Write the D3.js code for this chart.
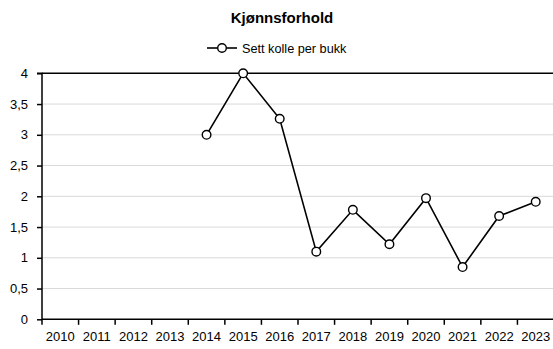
<!DOCTYPE html>
<html><head><meta charset="utf-8">
<script src="https://cdn.jsdelivr.net/npm/d3@7"></script>
<style>body{margin:0;background:#fff}svg{display:block}text{font-family:"Liberation Sans",Arial,sans-serif;fill:#000}</style>
</head><body>
<svg id="c" width="553" height="349"></svg>
<script>
const years = ["2010","2011","2012","2013","2014","2015","2016","2017","2018","2019","2020","2021","2022","2023"];
const seriesYears = ["2014","2015","2016","2017","2018","2019","2020","2021","2022","2023"];
const seriesValues = [3.0, 4.0, 3.26, 1.10, 1.78, 1.22, 1.97, 0.85, 1.68, 1.91];
const yTicks = [0, 0.5, 1, 1.5, 2, 2.5, 3, 3.5, 4];
const yTickLabels = ["0","0,5","1","1,5","2","2,5","3","3,5","4"];
const title = "Kjønnsforhold";
const seriesName = "Sett kolle per bukk";

const svg = d3.select("#c");
const L = 42, R = 554, T = 73.3, B = 319.3;
const x = d3.scaleBand().domain(years).range([L, R]).padding(0);
const y = d3.scaleLinear().domain([0, 4]).range([B, T]);

// gridlines
svg.append("g").selectAll("line").data(yTicks.filter(d => d > 0 && d < 4)).join("line")
  .attr("x1", L).attr("x2", R).attr("y1", d => y(d)).attr("y2", d => y(d))
  .attr("stroke", "#d9d9d9").attr("stroke-width", 1);
// top line
svg.append("line").attr("x1", L).attr("x2", R).attr("y1", y(4)).attr("y2", y(4))
  .attr("stroke", "#000").attr("stroke-width", 1.5);

// y axis
const yAxis = d3.axisLeft(y).tickValues(yTicks).tickSize(5).tickPadding(9)
  .tickFormat((d, i) => yTickLabels[i]);
const gy = svg.append("g").attr("transform", `translate(${L},0)`).call(yAxis);
gy.select(".domain").attr("stroke", "#000").attr("stroke-width", 1.5).attr("d", `M-5,${y(4)}H0V${B}`);
gy.selectAll(".tick line").attr("stroke", "#000").attr("stroke-width", 1.5);
gy.selectAll("text").style("font-size", "13px").style("font-family", '"Liberation Sans",Arial,sans-serif').attr("fill", "#000");

// x axis
const xAxis = d3.axisBottom(x).tickSize(0).tickPadding(12);
const gx = svg.append("g").attr("transform", `translate(0,${B})`).call(xAxis);
gx.select(".domain").attr("stroke", "#000").attr("stroke-width", 1.5).attr("d", `M${L},0H${R}`);
gx.selectAll("text").style("font-size", "13px").style("font-family", '"Liberation Sans",Arial,sans-serif').attr("fill", "#000");
gx.append("g").selectAll("line").data(years).join("line")
  .attr("x1", d => x(d)).attr("x2", d => x(d)).attr("y1", 0).attr("y2", 5.5)
  .attr("stroke", "#000").attr("stroke-width", 1.5);

// series
const pts = seriesYears.map((yr, i) => ({yr, v: seriesValues[i]}));
const line = d3.line().x(d => x(d.yr) + x.bandwidth() / 2).y(d => y(d.v));
svg.append("path").datum(pts).attr("d", line).attr("fill", "none")
  .attr("stroke", "#000").attr("stroke-width", 1.6);
svg.append("g").selectAll("circle").data(pts).join("circle")
  .attr("cx", d => x(d.yr) + x.bandwidth() / 2).attr("cy", d => y(d.v)).attr("r", 4.3)
  .attr("fill", "#fff").attr("stroke", "#000").attr("stroke-width", 1.4);

// title
svg.append("text").attr("x", 282).attr("y", 23).attr("text-anchor", "middle")
  .style("font-size", "15px").style("font-weight", "bold").text(title);

// legend
svg.append("line").attr("x1", 207).attr("x2", 237).attr("y1", 48).attr("y2", 48)
  .attr("stroke", "#000").attr("stroke-width", 1.6);
svg.append("circle").attr("cx", 222).attr("cy", 48).attr("r", 4.3)
  .attr("fill", "#fff").attr("stroke", "#000").attr("stroke-width", 1.4);
svg.append("text").attr("x", 242).attr("y", 52.5).style("font-size", "12.7px").text(seriesName);
</script>
</body></html>
